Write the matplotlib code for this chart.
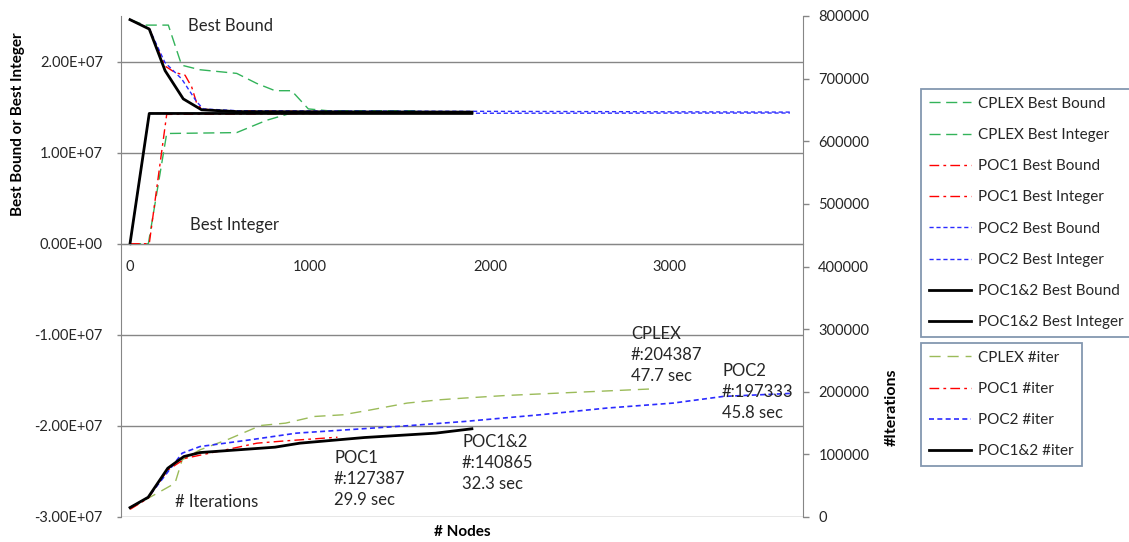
import numpy as np
import matplotlib
matplotlib.use('Agg')
import matplotlib.pyplot as plt
from matplotlib.ticker import FuncFormatter

plt.rcParams['font.family'] = ['Lato', 'DejaVu Sans']

# ---- data ----
# best bound / best integer (left axis), x = # nodes
cplex_bb_x = [0, 83, 213, 287, 389, 593, 704, 806, 898, 991, 1100, 1602]
cplex_bb_y = [24.6e6, 24.0e6, 24.0e6, 19.6e6, 19.1e6, 18.7e6, 17.6e6, 16.8e6, 16.8e6, 14.8e6, 14.6e6, 14.6e6]
cplex_bi_x = [0, 102, 204, 593, 759, 889, 1000, 1602]
cplex_bi_y = [0, 0, 12.1e6, 12.2e6, 13.55e6, 14.3e6, 14.4e6, 14.4e6]

poc1_bb_x = [0, 107, 195, 250, 306, 343, 371, 398, 500, 1150]
poc1_bb_y = [24.6e6, 23.6e6, 19.5e6, 18.8e6, 18.5e6, 17.2e6, 15.4e6, 14.8e6, 14.6e6, 14.5e6]
poc1_bi_x = [0, 107, 204, 1150]
poc1_bi_y = [0, 0, 14.2e6, 14.3e6]

poc2_bb_x = [0, 107, 194, 287, 370, 407, 600, 3667]
poc2_bb_y = [24.6e6, 23.6e6, 19.9e6, 18.1e6, 15.6e6, 14.8e6, 14.6e6, 14.45e6]
poc2_bi_x = [0, 107, 3667]
poc2_bi_y = [0, 14.3e6, 14.35e6]

poc12_bb_x = [0, 107, 195, 296, 398, 600, 1900]
poc12_bb_y = [24.6e6, 23.57e6, 19.0e6, 15.9e6, 14.7e6, 14.5e6, 14.45e6]
poc12_bi_x = [0, 107, 1900]
poc12_bi_y = [0, 14.3e6, 14.3e6]

# iterations (right axis)
cplex_it_x = [0, 101, 151, 250, 290, 389, 548, 726, 865, 1024, 1183, 1341, 1540, 1722, 1857, 2093, 2463, 2889]
cplex_it_y = [13e3, 30e3, 37.9e3, 53.9e3, 91.2e3, 107.2e3, 124.3e3, 146.1e3, 149.9e3, 160.5e3, 163.2e3,
              171.2e3, 181.9e3, 187.2e3, 189.9e3, 194.1e3, 198.9e3, 204387]
poc1_it_x = [0, 101, 210, 310, 548, 706, 865, 1153]
poc1_it_y = [12.2e3, 30e3, 75e3, 93.9e3, 108.3e3, 117.9e3, 121.6e3, 127387]
poc2_it_x = [0, 101, 190, 290, 389, 667, 925, 1262, 1560, 1857, 2278, 2648, 3018, 3296, 3667]
poc2_it_y = [15e3, 31.5e3, 64.5e3, 101.9e3, 112.5e3, 123.2e3, 133.9e3, 140.3e3, 146.1e3, 152.5e3,
             163.2e3, 173.9e3, 181.9e3, 192.5e3, 197333]
poc12_it_x = [0, 101, 210, 299, 389, 806, 944, 1302, 1699, 1900]
poc12_it_y = [15e3, 31.5e3, 77.9e3, 96.5e3, 102.9e3, 111.5e3, 117.9e3, 126.9e3, 133.9e3, 140865]

# ---- styles ----
GREEN = '#33b35a'
OLIVE = '#9bbb59'
RED = '#ff0000'
BLUE = '#2b2bff'
GRID = '#868686'
TXT = '#262626'
ds_cplex = (0, (8, 4))
ds_poc1 = (0, (7, 3, 2, 3))
ds_poc2 = (0, (3, 2))

W, H = 1129, 542
fig = plt.figure(figsize=(W / 100, H / 100), dpi=100)
ax = fig.add_axes([121 / W, 1 - 517 / H, (803 - 121) / W, (517 - 16) / H])
ax2 = ax.twinx()

h = []
h += ax.plot(cplex_bb_x, cplex_bb_y, color=GREEN, lw=1.0, ls=ds_cplex, label='CPLEX Best Bound')
h += ax.plot(cplex_bi_x, cplex_bi_y, color=GREEN, lw=1.0, ls=ds_cplex, label='CPLEX Best Integer')
h += ax.plot(poc1_bb_x, poc1_bb_y, color=RED, lw=1.0, ls=ds_poc1, label='POC1 Best Bound')
h += ax.plot(poc1_bi_x, poc1_bi_y, color=RED, lw=1.0, ls=ds_poc1, label='POC1 Best Integer')
h += ax.plot(poc2_bb_x, poc2_bb_y, color=BLUE, lw=1.0, ls=ds_poc2, label='POC2 Best Bound')
h += ax.plot(poc2_bi_x, poc2_bi_y, color=BLUE, lw=1.0, ls=ds_poc2, label='POC2 Best Integer')
h += ax.plot(poc12_bb_x, poc12_bb_y, color='black', lw=2.0, label='POC1&2 Best Bound')
h += ax.plot(poc12_bi_x, poc12_bi_y, color='black', lw=2.0, label='POC1&2 Best Integer')

h2 = []
h2 += ax2.plot(cplex_it_x, cplex_it_y, color=OLIVE, lw=1.0, ls=(0, (8, 5)), label='CPLEX #iter')
h2 += ax2.plot(poc1_it_x, poc1_it_y, color=RED, lw=1.0, ls=ds_poc1, label='POC1 #iter')
h2 += ax2.plot(poc2_it_x, poc2_it_y, color=BLUE, lw=1.2, ls=ds_poc2, label='POC2 #iter')
h2 += ax2.plot(poc12_it_x, poc12_it_y, color='black', lw=2.0, label='POC1&2 #iter')

# left axis
ax.set_xlim(-50, 3740)
ax.set_ylim(-3e7, 2.5e7)
ax.set_yticks(np.arange(-3e7, 2.1e7, 1e7))
ax.yaxis.set_major_formatter(FuncFormatter(lambda v, p: f"{v:.2E}"))
ax.set_xticks([0, 1000, 2000, 3000])
ax.yaxis.grid(True, color=GRID, lw=1)
ax.set_axisbelow(True)
ax.tick_params(axis='y', direction='out', length=3, width=1, color=GRID, pad=10, labelsize=10.5, labelcolor=TXT)
ax.tick_params(axis='x', length=0, pad=12, labelsize=10.5, labelcolor=TXT)
ax.spines['bottom'].set_position(('data', 0))
ax.spines['bottom'].set_color(GRID)
ax.spines['left'].set_color(GRID)
ax.spines['top'].set_visible(False)
ax.spines['right'].set_visible(False)

# right axis
ax2.set_ylim(0, 800000)
ax2.set_yticks(np.arange(0, 800001, 100000))
ax2.tick_params(axis='y', direction='out', length=4, width=1, color=GRID, pad=7, labelsize=10.5, labelcolor=TXT)
for s in ['left', 'top', 'bottom']:
    ax2.spines[s].set_visible(False)
ax2.spines['right'].set_color(GRID)

# axis titles
fig.text(18 / W, 1 - 124 / H, 'Best Bound or Best Integer', rotation=90, ha='center', va='center',
         fontsize=11, fontweight='bold', color='black')
fig.text(892 / W, 1 - 407 / H, '#Iterations', rotation=90, ha='center', va='center',
         fontsize=11.5, fontweight='bold', color='black')
fig.text(462 / W, 1 - 532 / H, '# Nodes', ha='center', va='center',
         fontsize=11, fontweight='bold', color='black')

# annotations
notes = [
    (188, 26, 'Best Bound'),
    (190, 225, 'Best Integer'),
    (175, 502, '# Iterations'),
    (334, 479, 'POC1\n#:127387\n29.9 sec'),
    (462, 463, 'POC1&2\n#:140865\n32.3 sec'),
    (631, 355, 'CPLEX\n#:204387\n47.7 sec'),
    (722, 392, 'POC2\n#:197333\n45.8 sec'),
]
for x, y, t in notes:
    fig.text(x / W, 1 - y / H, t, ha='left', va='center', fontsize=12, color=TXT, linespacing=1.4)

# legends
leg_kw = dict(loc='upper left', fontsize=11, fancybox=False, framealpha=1, edgecolor='#8497b0',
              handlelength=2.8, handletextpad=0.45, labelspacing=1.13, borderpad=0.5, borderaxespad=0)
leg1 = fig.legend(handles=h, bbox_to_anchor=(921 / W, 1 - 89 / H), **leg_kw)
leg2 = fig.legend(handles=h2, bbox_to_anchor=(921 / W, 1 - 343 / H), **leg_kw)
for lg in (leg1, leg2):
    lg.get_frame().set_linewidth(1.3)
    for t in lg.get_texts():
        t.set_color(TXT)

fig.savefig('out.png', dpi=100)
